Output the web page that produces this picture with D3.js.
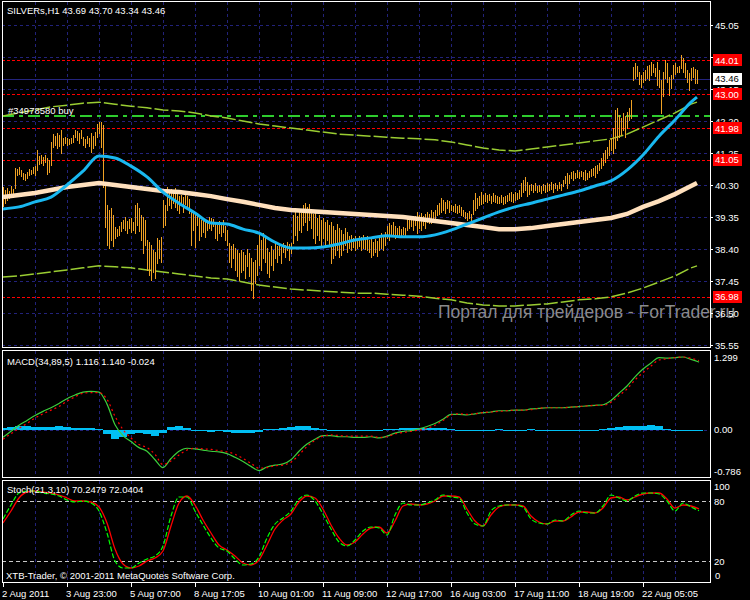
<!DOCTYPE html>
<html><head><meta charset="utf-8">
<script src="https://cdn.jsdelivr.net/npm/d3@7"></script>
<style>
html,body{margin:0;padding:0;background:#000;}
svg{display:block;}
text{font-family:"Liberation Sans",Arial,sans-serif;font-size:9.5px;fill:#fff;}
</style></head><body>
<svg id="c" width="750" height="600"></svg>
<script>
// ---------------- DATA ----------------
const title = "SILVERs,H1  43.69 43.70 43.34 43.46";
const macdTitle = "MACD(34,89,5) 1.116 1.140 -0.024";
const stochTitle = "Stoch(21,3,10) 70.2479 72.0404";
const copyright = "XTB-Trader, \u00a9 2001-2011 MetaQuotes Software Corp.";
const watermark = "Портал для трейдеров - ForTrader.ru";
const orderLabel = "#34978580 buy";

const timeLabels = ["2 Aug 2011","3 Aug 23:00","5 Aug 07:00","8 Aug 17:05","10 Aug 01:00","11 Aug 09:00","12 Aug 17:00","16 Aug 03:00","17 Aug 11:00","18 Aug 19:00","22 Aug 05:05"];
const priceTicks = [45.05,44.10,43.15,42.20,41.25,40.30,39.35,38.40,37.45,36.50,35.55];
const redLevels = [44.01,43.00,41.98,41.05,36.98];
const orderLevel = 42.35;
const lastPrice = 43.46;
const macdTicks = [1.299,0.00,-0.786];
const macdTickText = ["1.299","0.00","-0.786"];
const stochTicks = [100,80,20,0];
const stochLevels = [80,20];

const highs = [
40.24,40.15,40.21,40.12,40.27,40.18,40.80,40.77,40.83,40.74,
40.66,40.63,40.68,40.77,40.74,40.83,40.86,41.34,41.16,41.19,
41.13,41.19,41.10,41.04,41.57,41.81,41.75,41.84,41.78,41.93,
41.69,41.72,41.69,41.66,41.69,41.78,41.93,41.90,41.84,41.93,
41.72,41.66,41.75,41.69,41.84,41.75,41.87,42.11,42.17,42.17,
42.08,40.39,39.71,39.56,39.62,39.41,39.05,38.99,39.08,39.20,
39.26,39.35,39.23,39.29,39.32,39.20,39.71,39.77,39.62,39.41,
39.35,39.26,38.67,38.61,38.52,38.37,38.31,38.73,38.67,38.76,
39.85,39.71,40.24,40.15,40.18,40.09,40.21,40.06,39.97,40.00,
39.94,40.03,39.97,39.88,39.56,39.50,39.41,39.47,39.32,39.26,
39.23,39.20,39.26,39.35,39.32,39.29,39.20,39.11,39.23,39.14,
39.26,39.08,38.96,38.58,38.49,38.55,38.43,38.37,38.28,38.37,
38.31,38.22,38.40,38.28,38.13,38.01,38.07,38.52,38.81,38.67,
38.87,38.73,38.43,38.31,38.49,38.37,38.58,38.49,38.55,38.46,
38.58,38.52,38.61,38.55,38.58,39.41,39.50,39.38,39.56,39.47,
39.71,39.77,39.65,39.74,39.59,39.44,39.50,39.32,39.41,39.26,
39.32,39.20,39.26,39.11,39.20,39.08,38.96,39.14,39.02,38.96,
38.84,39.02,38.90,38.79,38.82,38.73,38.79,38.70,38.79,38.76,
38.82,38.73,38.79,38.67,38.73,38.61,38.70,38.64,38.76,38.87,
38.79,38.90,39.08,39.17,39.11,39.20,39.08,39.02,39.08,38.99,
39.05,39.02,39.29,39.35,39.26,39.32,39.38,39.50,39.41,39.47,
39.38,39.44,39.50,39.44,39.56,39.50,39.56,39.71,39.77,39.91,
39.85,39.79,39.85,39.82,39.71,39.68,39.74,39.68,39.71,39.65,
39.56,39.50,39.47,39.53,39.44,39.85,40.06,39.91,39.97,40.09,
40.00,40.06,40.00,40.03,39.97,40.06,40.00,39.97,39.94,40.00,
39.94,39.97,40.00,40.06,40.09,40.03,40.09,40.06,40.15,40.36,
40.45,40.54,40.39,40.30,40.33,40.30,40.36,40.27,40.30,40.27,
40.33,40.30,40.36,40.33,40.39,40.33,40.36,40.30,40.39,40.33,
40.45,40.57,40.66,40.60,40.68,40.71,40.66,40.74,40.68,40.71,
40.68,40.74,40.66,40.71,40.77,40.80,40.86,40.89,40.95,41.10,
41.25,41.34,41.43,41.64,41.69,41.99,42.53,42.58,42.38,42.29,
42.44,42.35,42.47,42.58,42.82,43.80,43.92,43.83,43.65,43.56,
43.65,43.71,43.83,43.86,43.95,43.89,43.77,43.95,43.71,43.42,
43.65,44.01,43.92,43.51,43.57,43.86,43.92,43.80,43.83,44.16,
44.07,43.92,43.71,43.62,43.77,43.80,43.74,43.70];
const lows = [
39.68,39.76,39.85,39.91,39.94,39.97,40.21,40.60,40.63,40.57,
40.48,40.45,40.51,40.60,40.63,40.66,40.60,40.74,40.92,40.95,
40.89,40.98,40.63,40.69,40.89,41.43,41.49,41.40,41.46,41.25,
41.49,41.55,41.49,41.52,41.55,41.58,41.72,41.64,41.55,41.69,
41.49,41.43,41.55,41.46,41.28,41.40,41.49,41.72,41.84,41.43,
40.24,39.05,38.52,38.43,38.67,38.49,38.73,38.78,38.81,38.93,
39.02,38.96,38.87,39.02,38.90,38.96,38.87,39.11,38.93,38.67,
38.28,38.52,37.78,37.63,37.48,37.72,37.54,37.98,38.13,38.01,
39.05,39.11,39.56,39.71,39.62,39.77,39.65,39.56,39.47,39.71,
39.50,39.74,39.59,39.47,38.52,38.96,38.46,39.11,38.67,38.78,
38.90,38.76,38.96,39.02,38.96,39.08,38.73,38.67,38.87,38.78,
38.90,38.67,38.52,38.01,37.87,38.13,37.78,37.60,37.48,37.72,
37.78,37.54,37.90,37.60,37.18,36.94,37.39,37.63,37.93,37.78,
38.13,38.01,37.69,37.57,37.93,37.78,38.13,38.01,38.22,37.98,
38.31,38.16,38.37,38.07,38.28,38.58,38.82,38.67,38.96,38.90,
39.11,39.20,38.96,39.26,39.02,38.73,38.58,38.82,38.67,38.46,
38.73,38.52,38.67,38.49,37.98,38.13,38.22,38.37,38.16,38.22,
38.37,38.52,38.31,38.43,38.37,38.46,38.37,38.43,38.49,38.37,
38.43,38.40,38.37,38.31,38.16,38.22,38.31,38.19,38.37,38.43,
38.37,38.52,38.73,38.67,38.79,38.85,38.73,38.79,38.82,38.76,
38.85,38.76,38.96,39.02,39.08,38.96,39.11,38.87,39.02,38.96,
39.11,39.02,39.20,39.17,39.17,39.26,39.32,39.41,39.44,39.50,
39.56,39.47,39.62,39.50,39.56,39.53,39.50,39.47,39.50,39.41,
39.38,39.32,39.26,39.32,39.23,39.44,39.56,39.62,39.71,39.74,
39.77,39.82,39.79,39.85,39.76,39.82,39.79,39.76,39.76,39.79,
39.74,39.76,39.82,39.85,39.82,39.79,39.85,39.88,39.91,39.97,
40.09,40.15,39.97,40.03,40.15,40.09,40.15,40.09,40.12,40.06,
40.15,40.09,40.12,40.15,40.18,40.09,40.21,40.15,40.21,40.15,
40.27,40.36,40.21,40.36,40.51,40.45,40.51,40.54,40.51,40.57,
40.48,40.45,40.48,40.54,40.57,40.60,40.54,40.66,40.74,40.80,
40.89,40.98,41.10,41.19,41.34,41.25,41.40,41.64,41.72,41.78,
41.93,41.72,42.00,42.23,42.29,43.42,43.48,43.54,43.30,43.21,
43.36,43.42,43.48,43.42,43.57,43.65,43.54,43.27,43.21,42.44,
42.94,43.48,43.36,42.97,43.18,43.48,43.60,43.65,43.65,43.77,
43.65,43.51,43.36,43.12,43.42,43.51,43.33,43.34];

// moving averages / envelopes, one value every 8 bars (last = last bar)
const maFast = [39.59,39.65,39.80,39.94,40.30,40.71,41.16,41.10,40.86,40.54,
40.09,39.76,39.47,39.17,39.14,38.99,38.87,38.60,38.43,38.43,
38.46,38.55,38.67,38.73,38.79,38.76,38.76,38.82,38.96,39.14,
39.32,39.50,39.65,39.76,39.88,40.00,40.12,40.27,40.42,40.74,
41.19,41.75,42.23,42.76,42.91];
const maSlow = [39.94,40.00,40.06,40.15,40.24,40.30,40.36,40.30,40.24,40.18,
40.12,40.09,40.03,39.97,39.88,39.80,39.71,39.62,39.56,39.53,
39.50,39.47,39.44,39.41,39.38,39.35,39.29,39.23,39.17,39.11,
39.05,38.99,38.99,39.02,39.08,39.14,39.20,39.26,39.32,39.44,
39.65,39.82,40.03,40.27,40.36];
const envUpper = [42.35,42.44,42.53,42.62,42.67,42.73,42.76,42.70,42.64,42.59,
42.53,42.50,42.44,42.35,42.29,42.20,42.11,42.05,41.99,41.93,
41.87,41.81,41.78,41.75,41.72,41.69,41.67,41.64,41.58,41.49,
41.40,41.34,41.31,41.37,41.43,41.49,41.55,41.61,41.67,41.81,
42.02,42.23,42.44,42.70,42.76];
const envLower = [37.57,37.60,37.66,37.72,37.78,37.84,37.90,37.87,37.84,37.78,
37.72,37.66,37.60,37.54,37.51,37.42,37.33,37.27,37.21,37.18,
37.15,37.12,37.09,37.09,37.06,37.03,37.00,36.94,36.89,36.80,
36.74,36.71,36.71,36.74,36.77,36.83,36.89,36.92,36.98,37.09,
37.24,37.42,37.60,37.84,37.90];

// indicators, one value every 4 bars
const macdMain = [-0.13,-0.03,0.07,0.15,0.23,0.30,0.36,0.43,0.51,0.57,
0.62,0.63,0.62,0.42,0.08,-0.10,-0.20,-0.30,-0.36,-0.50,
-0.63,-0.48,-0.36,-0.31,-0.32,-0.34,-0.36,-0.37,-0.40,-0.46,
-0.53,-0.61,-0.68,-0.62,-0.59,-0.57,-0.50,-0.36,-0.24,-0.16,
-0.10,-0.10,-0.12,-0.12,-0.13,-0.13,-0.12,-0.14,-0.11,-0.06,
-0.03,-0.02,0.01,0.05,0.10,0.17,0.25,0.25,0.24,0.26,
0.28,0.29,0.31,0.31,0.32,0.32,0.34,0.35,0.36,0.36,
0.36,0.37,0.38,0.39,0.40,0.41,0.48,0.60,0.72,0.87,
1.00,1.10,1.19,1.18,1.19,1.20,1.16,1.116];
const macdSignal = [-0.16,-0.07,0.02,0.10,0.19,0.26,0.32,0.38,0.47,0.54,
0.60,0.61,0.61,0.50,0.22,0.00,-0.14,-0.25,-0.30,-0.41,
-0.58,-0.52,-0.42,-0.34,-0.31,-0.32,-0.33,-0.35,-0.37,-0.41,
-0.48,-0.56,-0.64,-0.63,-0.60,-0.59,-0.54,-0.42,-0.28,-0.18,
-0.11,-0.09,-0.10,-0.11,-0.11,-0.11,-0.11,-0.13,-0.12,-0.07,
-0.05,-0.03,-0.01,0.02,0.07,0.15,0.24,0.26,0.25,0.26,
0.28,0.29,0.30,0.31,0.32,0.32,0.33,0.35,0.36,0.36,
0.36,0.37,0.38,0.39,0.40,0.40,0.45,0.56,0.67,0.82,
0.94,1.05,1.15,1.17,1.19,1.20,1.18,1.14];
const macdHist = [0.03,0.04,0.05,0.05,0.04,0.04,0.04,0.05,0.04,0.03,
0.02,0.02,0.01,-0.08,-0.15,-0.12,-0.07,-0.06,-0.07,-0.10,
-0.05,0.04,0.05,0.03,-0.01,-0.03,-0.04,-0.03,-0.04,-0.05,
-0.05,-0.05,-0.04,0.01,0.01,0.02,0.04,0.06,0.05,0.02,
0.01,-0.01,-0.02,-0.015,-0.02,-0.02,-0.015,-0.01,0.01,0.015,
0.02,0.02,0.02,0.03,0.03,0.02,0.01,-0.01,-0.01,0.00,
0.00,0.00,0.01,0.00,0.00,0.00,0.01,0.00,0.00,0.00,
0.00,0.00,0.00,0.00,0.00,0.01,0.03,0.04,0.05,0.05,
0.06,0.07,0.05,0.01,0.00,0.00,-0.03,-0.024];
const stochK = [62,76,88,90,90,88,87,85,81,79,
80,78,70,48,20,13,13,18,22,25,
35,65,84,84,70,56,43,33,30,22,
16,17,24,43,57,63,70,82,86,80,
67,52,39,35,41,50,54,53,46,66,
78,76,76,78,81,86,84,83,68,57,
55,70,75,76,76,74,62,58,57,61,
60,66,70,68,68,75,86,83,80,85,
88,88,87,80,70,78,74,70.25];
const stochD = [58,70,83,89,90,89,88,86,83,80,
80,79,74,58,32,17,13,15,20,23,
30,55,78,85,76,61,48,36,31,25,
18,16,21,36,52,61,67,79,85,83,
72,56,43,36,39,47,53,54,48,60,
75,77,76,77,80,85,85,84,72,60,
55,66,74,76,76,75,65,59,57,60,
60,64,69,69,68,73,83,84,81,84,
87,88,88,82,73,76,75,72.04];

// ---------------- LAYOUT ----------------
const svg = d3.select("#c");
const L = 2, R = 710;
const P = {main:[1,347], macd:[350,477], stoch:[480,582]};
const N = highs.length;
const x = d3.scaleLinear().domain([0, N]).range([3, 3 + 2*N]);
const yP = d3.scaleLinear().domain([35.55, 45.05]).range([345, 25]);
const yM = d3.scaleLinear().domain([-0.786, 1.299]).range([477, 351]);
const yS = d3.scaleLinear().domain([0, 100]).range([581, 481]);
const GRID = "#22227a";
const maIdx = j => Math.min(j*8, N-1);
const indIdx = k => k*4;

const defs = svg.append("defs");
Object.entries(P).forEach(([k,[t,b]]) => {
  defs.append("clipPath").attr("id","clip-"+k).append("rect")
    .attr("x",L+1).attr("y",t+1).attr("width",R-L-1).attr("height",b-t-1);
});

// vertical grid
const vgrid = d3.range(16, N, 16);
Object.entries(P).forEach(([k,[t,b]]) => {
  svg.append("g").selectAll("line").data(vgrid).join("line")
    .attr("x1", d => Math.round(x(d))+0.5).attr("x2", d => Math.round(x(d))+0.5)
    .attr("y1", t+1).attr("y2", b)
    .attr("stroke", GRID).attr("stroke-dasharray","3,3");
});

// ----- main panel -----
const gm = svg.append("g").attr("clip-path","url(#clip-main)");
gm.selectAll(".hg").data(priceTicks).join("line")
  .attr("x1",L).attr("x2",R).attr("y1",d=>Math.round(yP(d))+0.5).attr("y2",d=>Math.round(yP(d))+0.5)
  .attr("stroke",GRID).attr("stroke-dasharray","3,3");
gm.selectAll(".rl").data(redLevels).join("line")
  .attr("x1",L).attr("x2",R).attr("y1",d=>Math.round(yP(d))+0.5).attr("y2",d=>Math.round(yP(d))+0.5)
  .attr("stroke","#ff0000").attr("stroke-dasharray","3,2");
gm.append("line").attr("x1",L).attr("x2",R)
  .attr("y1",Math.round(yP(lastPrice))+0.5).attr("y2",Math.round(yP(lastPrice))+0.5)
  .attr("stroke","#24247e");
gm.append("line").attr("x1",L).attr("x2",R)
  .attr("y1",Math.round(yP(orderLevel))).attr("y2",Math.round(yP(orderLevel)))
  .attr("stroke","#2ecc2e").attr("stroke-width",2).attr("stroke-dasharray","12,5,4,5");

// envelopes
const lineMA = arr => d3.line().x((d,j)=>x(maIdx(j))).y(d=>yP(d))(arr);
[envUpper, envLower].forEach(a => {
  gm.append("path").attr("d", lineMA(a)).attr("fill","none")
    .attr("stroke","#9acd32").attr("stroke-width",1.5).attr("stroke-dasharray","14,3");
});

// bars
gm.append("g").selectAll("line").data(highs).join("line")
  .attr("x1",(d,i)=>Math.round(x(i))+0.5).attr("x2",(d,i)=>Math.round(x(i))+0.5)
  .attr("y1",d=>Math.round(yP(d))).attr("y2",(d,i)=>Math.round(yP(lows[i]))+1)
  .attr("stroke","#f0a224").attr("stroke-width",1).attr("shape-rendering","crispEdges");

// moving averages
gm.append("path").attr("d", lineMA(maSlow)).attr("fill","none")
  .attr("stroke","#ffe0bd").attr("stroke-width",4.5);
gm.append("path").attr("d", d3.line().curve(d3.curveMonotoneX).x((d,j)=>x(maIdx(j))).y(d=>yP(d))(maFast)).attr("fill","none")
  .attr("stroke","#19b8f0").attr("stroke-width",3);

// watermark
svg.append("text").attr("x",438).attr("y",318).text(watermark)
  .style("font-size","17.5px").style("fill","#8a8a8a");

// ----- MACD panel -----
const gd = svg.append("g").attr("clip-path","url(#clip-macd)");
gd.append("line").attr("x1",L).attr("x2",R).attr("y1",Math.round(yM(0))+0.5).attr("y2",Math.round(yM(0))+0.5)
  .attr("stroke",GRID).attr("stroke-dasharray","3,3");
gd.selectAll(".hb").data(macdHist).join("rect")
  .attr("x",(d,k)=>Math.round(x(indIdx(k)))-4).attr("width",8)
  .attr("y",d=>Math.min(yM(d), yM(0)))
  .attr("height",d=>Math.max(1.5, Math.abs(yM(d)-yM(0))))
  .attr("fill","#00bff3").attr("shape-rendering","crispEdges");
const lineInd = (arr, sc) => d3.line().curve(d3.curveMonotoneX).x((d,k)=>x(indIdx(k))).y(d=>sc(d))(arr);
gd.append("path").attr("d", lineInd(macdMain, yM)).attr("fill","none").attr("stroke","#3ccf3c").attr("stroke-width",1.2);
gd.append("path").attr("d", lineInd(macdSignal, yM)).attr("fill","none").attr("stroke","#ff0000").attr("stroke-width",1.2).attr("stroke-dasharray","2,3");

// ----- Stoch panel -----
const gs = svg.append("g").attr("clip-path","url(#clip-stoch)");
gs.selectAll(".sl").data(stochLevels).join("line")
  .attr("x1",L).attr("x2",R).attr("y1",d=>Math.round(yS(d))+0.5).attr("y2",d=>Math.round(yS(d))+0.5)
  .attr("stroke","#c8c8c8").attr("stroke-dasharray","4,3");
gs.append("path").attr("d", lineInd(stochD, yS)).attr("fill","none").attr("stroke","#ff0000").attr("stroke-width",1.3);
gs.append("path").attr("d", lineInd(stochK, yS)).attr("fill","none").attr("stroke","#00ff00").attr("stroke-width",1.2).attr("stroke-dasharray","5,2");

// ----- frames -----
Object.values(P).forEach(([t,b]) => {
  svg.append("rect").attr("x",L+0.5).attr("y",t+0.5).attr("width",R-L).attr("height",b-t)
    .attr("fill","none").attr("stroke","#fff").attr("stroke-width",1);
});

// ----- right axis labels -----
const axG = svg.append("g");
axG.selectAll(".pt").data(priceTicks).join("text")
  .attr("x",715).attr("y",d=>yP(d)+3.5).text(d=>d.toFixed(2));
axG.selectAll(".ptk").data(priceTicks).join("line")
  .attr("x1",R).attr("x2",R+3).attr("y1",d=>Math.round(yP(d))+0.5).attr("y2",d=>Math.round(yP(d))+0.5).attr("stroke","#fff");
const rl = axG.selectAll(".rlab").data(redLevels).join("g");
rl.append("rect").attr("x",713).attr("y",d=>Math.round(yP(d))-6).attr("width",29).attr("height",12).attr("fill","#ff0000");
rl.append("text").attr("x",715).attr("y",d=>yP(d)+3.5).text(d=>d.toFixed(2));
axG.append("rect").attr("x",713).attr("y",Math.round(yP(lastPrice))-6).attr("width",29).attr("height",12).attr("fill","#fff");
axG.append("text").attr("x",715).attr("y",yP(lastPrice)+3.5).text(lastPrice.toFixed(2)).style("fill","#000");

axG.selectAll(".mt").data(macdTicks).join("text")
  .attr("x",714).attr("y",(d,i)=>[360.5,432.5,474.5][i]).text((d,i)=>macdTickText[i]);
axG.selectAll(".st").data(stochTicks).join("text")
  .attr("x",d=>d===0?715:714).attr("y",(d,i)=>[489.5,504.5,564.5,578.5][i]).text(d=>d);

// ----- bottom time axis -----
const tg = svg.append("g");
tg.selectAll("line").data(timeLabels).join("line")
  .attr("x1",(d,i)=>Math.round(x(i*32))+0.5).attr("x2",(d,i)=>Math.round(x(i*32))+0.5)
  .attr("y1",582).attr("y2",587).attr("stroke","#fff");
tg.selectAll("text").data(timeLabels).join("text")
  .attr("x",(d,i)=>x(i*32)-1).attr("y",596.5).text(d=>d);

// ----- titles -----
svg.append("text").attr("x",7).attr("y",14).text(title);
svg.append("text").attr("x",8).attr("y",114).text(orderLabel);
svg.append("text").attr("x",7).attr("y",365).text(macdTitle);
svg.append("text").attr("x",7).attr("y",493).text(stochTitle);
svg.append("text").attr("x",6).attr("y",579).text(copyright);
</script>
</body></html>
